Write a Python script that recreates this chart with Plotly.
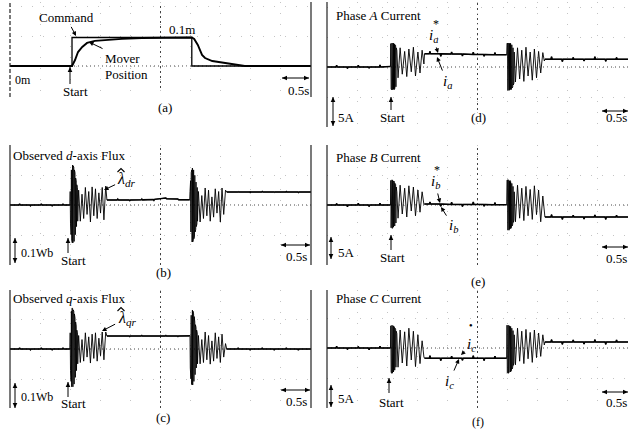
import math
import plotly.graph_objects as go

W, H = 629, 431
FONT = "Liberation Serif"

# ======================= DATA =======================
# (a) position command / mover position [m] vs time [s]
cmd_t = [0.0, 1.03, 1.03, 3.02, 3.02, 5.0]
cmd_v = [0.0, 0.0, 0.1, 0.1, 0.0, 0.0]
pos_t = [0.0, 1.03, 1.08, 1.13, 1.20, 1.28, 1.41, 1.58, 1.86, 2.19, 2.6, 3.02,
         3.06, 3.12, 3.19, 3.24, 3.36, 3.52, 3.69, 3.9, 5.0]
pos_v = [0.0, 0.0, 0.021, 0.049, 0.067, 0.081, 0.088, 0.091, 0.095, 0.098, 0.1, 0.1,
         0.095, 0.074, 0.039, 0.028, 0.0175, 0.012, 0.006, 0.0, 0.0]

# ---- sample times, left column (flux) ----
pre_t_L = [0.00, 0.15, 0.16, 0.17, 0.33, 0.34, 0.35, 0.51, 0.52, 0.53, 0.69, 0.70, 0.71, 0.87, 0.88, 0.89, 0.995]
blk1_t_L = [1.000, 1.005, 1.010, 1.015, 1.020, 1.025, 1.030, 1.035, 1.040, 1.045, 1.050, 1.055, 1.060,
            1.065, 1.070, 1.075, 1.080, 1.085, 1.090, 1.095, 1.100, 1.105, 1.110, 1.115, 1.120, 1.125]
osc1_t_L = [1.14, 1.168, 1.196, 1.224, 1.252, 1.28, 1.308, 1.336, 1.364, 1.392, 1.42, 1.448,
            1.476, 1.504, 1.532, 1.56, 1.59]
lvl1_t_L = [1.61, 1.78, 1.79, 1.80, 1.98, 1.99, 2.00, 2.18, 2.19, 2.20, 2.38, 2.39, 2.40,
            2.58, 2.59, 2.60, 2.78, 2.79, 2.80, 2.985]
blk2_t_L = [2.990, 2.995, 3.000, 3.005, 3.010, 3.015, 3.020, 3.025, 3.030, 3.035, 3.040, 3.045, 3.050,
            3.055, 3.060, 3.065, 3.070, 3.075, 3.080, 3.085, 3.090, 3.095, 3.100, 3.105, 3.110, 3.115]
osc2_t_L = [3.13, 3.158, 3.186, 3.214, 3.242, 3.27, 3.298, 3.326, 3.354, 3.382, 3.41, 3.438,
            3.466, 3.494, 3.522, 3.55, 3.58]
lvl2_t_L = [3.60, 3.78, 3.79, 3.80, 3.98, 3.99, 4.00, 4.18, 4.19, 4.20, 4.38, 4.39, 4.40,
            4.58, 4.59, 4.60, 4.78, 4.79, 4.80, 5.00]

# (b) observed d-axis flux [Wb]
ld_pre = [0, 0, 0.004, 0, 0, -0.003, 0, 0, 0.004, 0, 0, -0.003, 0, 0, 0.003, 0, 0]
ld_blk1 = [0.05, -0.07, 0.10, -0.11, 0.13, -0.13, 0.145, -0.14, 0.148, -0.14, 0.145, -0.14, 0.14,
           -0.135, 0.13, -0.125, 0.12, -0.11, 0.10, -0.095, 0.09, -0.08, 0.075, -0.07, 0.065, -0.06]
ld_osc1 = [0.055, -0.06, 0.04, -0.05, 0.065, -0.035, 0.05, -0.063, 0.067, -0.04, 0.06, -0.05,
           0.045, -0.03, 0.065, -0.055, 0.07]
ld_lvl1 = [0.0185, 0.0185, 0.022, 0.0185, 0.0185, 0.016, 0.0185, 0.019, 0.022, 0.019, 0.02, 0.017,
           0.021, 0.024, 0.026, 0.023, 0.02, 0.022, 0.019, 0.019]
ld_blk2 = [0.05, -0.07, 0.09, -0.10, 0.12, -0.125, 0.13, -0.137, 0.137, -0.137, 0.135, -0.13, 0.13,
           -0.125, 0.12, -0.115, 0.11, -0.10, 0.095, -0.09, 0.085, -0.08, 0.075, -0.07, 0.065, -0.06]
ld_osc2 = [0.05, -0.063, 0.035, -0.05, 0.063, -0.04, 0.055, -0.06, 0.03, -0.045, 0.06, -0.03,
           0.05, -0.063, 0.063, -0.035, 0.055]
ld_lvl2 = [0.048, 0.048, 0.05, 0.048, 0.048, 0.046, 0.048, 0.048, 0.05, 0.048, 0.048, 0.046,
           0.048, 0.048, 0.05, 0.048, 0.048, 0.046, 0.048, 0.048]

# (c) observed q-axis flux [Wb]
lq_pre = [0, 0, 0.004, 0, 0, -0.003, 0, 0, 0.004, 0, 0, -0.003, 0, 0, 0.004, 0, 0]
lq_blk1 = [0.06, -0.08, 0.11, -0.12, 0.14, -0.14, 0.152, -0.14, 0.15, -0.14, 0.145, -0.14, 0.14,
           -0.13, 0.13, -0.12, 0.115, -0.105, 0.10, -0.09, 0.085, -0.08, 0.07, -0.065, 0.06, -0.055]
lq_osc1 = [0.05, -0.05, 0.035, -0.045, 0.06, -0.03, 0.045, -0.052, 0.055, -0.035, 0.06, -0.045,
           0.04, -0.025, 0.063, -0.04, 0.063]
lq_lvl1 = [0.048, 0.048, 0.05, 0.048, 0.048, 0.046, 0.048, 0.048, 0.05, 0.048, 0.048, 0.046,
           0.048, 0.048, 0.05, 0.048, 0.048, 0.046, 0.048, 0.048]
lq_blk2 = [0.05, -0.07, 0.10, -0.11, 0.125, -0.13, 0.14, -0.133, 0.144, -0.133, 0.14, -0.13, 0.13,
           -0.12, 0.12, -0.11, 0.10, -0.095, 0.09, -0.085, 0.08, -0.07, 0.07, -0.065, 0.06, -0.055]
lq_osc2 = [0.05, -0.055, 0.035, -0.05, 0.063, -0.04, 0.05, -0.056, 0.03, -0.045, 0.06, -0.035,
           0.045, -0.05, 0.055, -0.03, 0.02]
lq_lvl2 = [0, 0, 0.004, 0, 0, -0.004, 0, 0, 0.004, 0, 0, -0.004, 0, 0, 0.004, 0, 0, -0.004, 0, 0]

# ---- sample times, right column (currents) ----
pre_t_R = [0.00, 0.15, 0.16, 0.17, 0.33, 0.34, 0.35, 0.51, 0.52, 0.53, 0.69, 0.70, 0.71, 0.87, 0.88, 0.89, 1.055]
blk1_t_R = [1.060, 1.065, 1.070, 1.075, 1.080, 1.085, 1.090, 1.095, 1.100, 1.105, 1.110,
            1.115, 1.120, 1.125, 1.130, 1.135, 1.140, 1.145, 1.150, 1.155, 1.160]
osc1_t_R = [1.18, 1.215, 1.25, 1.29, 1.325, 1.36, 1.40, 1.435, 1.47, 1.51, 1.545, 1.58, 1.61]
lvl1_t_R = [1.62, 1.70, 1.71, 1.72, 1.88, 1.89, 1.90, 2.06, 2.07, 2.08, 2.24, 2.25, 2.26,
            2.42, 2.43, 2.44, 2.60, 2.61, 2.62, 2.78, 2.79, 2.80, 2.985]
blk2_t_R = [2.990, 2.995, 3.000, 3.005, 3.010, 3.015, 3.020, 3.025, 3.030, 3.035, 3.040, 3.045, 3.050,
            3.055, 3.060, 3.065, 3.070, 3.075, 3.080, 3.085, 3.090, 3.095, 3.100, 3.105, 3.110]
osc2_t_R = [3.13, 3.165, 3.20, 3.235, 3.27, 3.305, 3.34, 3.375, 3.41, 3.445, 3.48, 3.515, 3.55, 3.585, 3.61]
lvl2_t_R = [3.62, 3.72, 3.73, 3.74, 3.90, 3.91, 3.92, 4.08, 4.09, 4.10, 4.26, 4.27, 4.28,
            4.44, 4.45, 4.46, 4.62, 4.63, 4.64, 4.80, 4.81, 4.82, 5.00]

# (d) phase A current [A]
ia_pre = [0, 0, 0.3, 0, 0, -0.25, 0, 0, 0.3, 0, 0, -0.2, 0, 0, 0.35, 0, 0.1]
ia_blk1 = [3.9, -3.7, 4.0, -3.8, 4.0, -3.8, 3.9, -3.8, 4.0, -3.7, 3.9, -3.8, 3.8, -3.6, 3.7,
           -3.5, 3.6, -3.3, 3.2, -3.0, 2.8]
ia_osc1 = [-1.8, 3.2, -1.2, 2.6, -1.6, 3.0, -0.8, 3.3, -1.5, 2.5, -1.0, 2.8, 0.5]
ia_lvl1 = [2.2, 2.2, 2.6, 2.2, 2.2, 1.8, 2.2, 2.15, 2.5, 2.15, 2.15, 1.85, 2.15, 2.1, 2.45, 2.1,
           2.1, 1.8, 2.1, 2.05, 2.4, 2.05, 2.05]
ia_blk2 = [3.9, -3.8, 4.0, -3.9, 4.0, -3.8, 4.0, -3.9, 3.9, -3.8, 4.0, -3.7, 3.9, -3.8, 3.8, -3.7,
           3.7, -3.5, 3.5, -3.3, 3.2, -3.0, 2.9, -2.7, 2.5]
ia_osc2 = [-2.5, 3.2, -2.0, 2.8, -2.4, 3.3, -1.5, 2.5, -2.2, 3.0, -1.8, 2.6, -1.0, 2.4, 1.0]
ia_lvl2 = [1.3, 1.3, 1.7, 1.3, 1.3, 0.9, 1.3, 1.3, 1.6, 1.3, 1.3, 1.0, 1.3, 1.3, 1.7, 1.3, 1.3,
           0.95, 1.3, 1.3, 1.6, 1.3, 1.3]

# (e) phase B current [A]
ib_pre = [0, 0, 0.25, 0, 0, -0.3, 0, 0, 0.3, 0, 0, -0.25, 0, 0, 0.3, 0, 0]
ib_blk1 = [4.1, -3.8, 4.2, -3.8, 4.2, -3.9, 4.1, -3.8, 4.0, -3.7, 4.0, -3.6, 3.8, -3.5, 3.6, -3.3,
           3.4, -3.0, 3.0, -2.6, 2.2]
ib_osc1 = [-2.2, 3.3, -1.5, 2.8, -2.0, 3.2, -1.0, 3.0, -1.8, 2.5, -1.2, 2.2, 0.1]
ib_lvl1 = [0.15, 0.15, 0.5, 0.15, 0.15, -0.2, 0.15, 0.1, 0.45, 0.1, 0.1, -0.25, 0.1, 0.1, 0.5, 0.1,
           0.1, -0.2, 0.1, 0.05, 0.4, 0.05, 0.05]
ib_blk2 = [4.1, -4.1, 4.2, -4.2, 4.2, -4.1, 4.1, -4.2, 4.0, -4.0, 4.1, -3.9, 3.9, -3.9, 3.8, -3.7,
           3.6, -3.5, 3.4, -3.2, 3.1, -2.9, 2.7, -2.5, 2.2]
ib_osc2 = [-2.8, 3.3, -2.2, 2.8, -2.6, 3.1, -1.8, 2.6, -2.4, 3.2, -1.6, 2.5, -2.8, 1.5, -2.0]
ib_lvl2 = [-2.0, -2.0, -1.6, -2.0, -2.0, -2.4, -2.0, -2.0, -1.7, -2.0, -2.0, -2.35, -2.0, -2.0,
           -1.65, -2.0, -2.0, -2.4, -2.0, -2.0, -1.7, -2.0, -2.0]

# (f) phase C current [A]
ic_pre = [0, 0, 0.3, 0, 0, -0.25, 0, 0, 0.25, 0, 0, -0.3, 0, 0, 0.3, 0, 0]
ic_blk1 = [3.7, -4.1, 3.8, -4.2, 3.8, -4.2, 3.7, -4.1, 3.7, -4.0, 3.6, -3.9, 3.5, -3.7, 3.3, -3.5,
           3.1, -3.2, 2.8, -2.8, 2.4]
ic_osc1 = [-3.2, 3.0, -2.5, 2.7, -3.0, 3.3, -2.0, 2.8, -3.1, 2.2, -2.6, 1.2, -1.5]
ic_lvl1 = [-1.7, -1.7, -1.3, -1.7, -1.7, -2.1, -1.7, -1.7, -1.35, -1.7, -1.7, -2.05, -1.7, -1.7,
           -1.3, -1.7, -1.7, -2.1, -1.7, -1.7, -1.35, -1.7, -1.7]
ic_blk2 = [3.8, -4.2, 3.8, -4.1, 3.8, -4.2, 3.7, -4.1, 3.7, -4.0, 3.7, -4.0, 3.6, -3.9, 3.5, -3.7,
           3.3, -3.5, 3.1, -3.2, 2.9, -2.9, 2.6, -2.5, 2.2]
ic_osc2 = [-2.8, 3.3, -2.2, 2.8, -2.6, 3.1, -1.8, 2.6, -2.4, 3.0, -1.6, 2.5, -1.4, 2.2, 0.5]
ic_lvl2 = [1.0, 1.0, 1.4, 1.0, 1.0, 0.6, 1.0, 1.0, 1.35, 1.0, 1.0, 0.65, 1.0, 1.0, 1.4, 1.0, 1.0,
           0.6, 1.0, 1.0, 1.35, 1.0, 1.0]


def join(times, values):
    t, v = [], []
    for a, b in zip(times, values):
        assert len(a) == len(b), (len(a), len(b))
        t += a
        v += b
    return t, v


def flats(times, values):
    """Steady-state segments (indices 0, 3, 6) joined with gaps."""
    t, v = [], []
    for k in (0, 3, 6):
        t += times[k] + [None]
        v += values[k] + [None]
    return t, v


TL = [pre_t_L, blk1_t_L, osc1_t_L, lvl1_t_L, blk2_t_L, osc2_t_L, lvl2_t_L]
TR = [pre_t_R, blk1_t_R, osc1_t_R, lvl1_t_R, blk2_t_R, osc2_t_R, lvl2_t_R]
LD = [ld_pre, ld_blk1, ld_osc1, ld_lvl1, ld_blk2, ld_osc2, ld_lvl2]
LQ = [lq_pre, lq_blk1, lq_osc1, lq_lvl1, lq_blk2, lq_osc2, lq_lvl2]
IA = [ia_pre, ia_blk1, ia_osc1, ia_lvl1, ia_blk2, ia_osc2, ia_lvl2]
IB = [ib_pre, ib_blk1, ib_osc1, ib_lvl1, ib_blk2, ib_osc2, ib_lvl2]
IC = [ic_pre, ic_blk1, ic_osc1, ic_lvl1, ic_blk2, ic_osc2, ic_lvl2]


def wave(times, values):
    full = join(times, values)
    return [(full[0], full[1], 0.9), flats(times, values) + (1.5,)]


# ======================= LAYOUT =======================
# panel boxes in pixels: x0, x1, top, bottom, baseline, pixels per unit
panels = [
    dict(x0=10, x1=311, top=2, bot=97, base=66, ppu=285.0,
         series=[(cmd_t, cmd_v, 1.3), (pos_t, pos_v, 1.9)], rborder=True, ctr_bot=88),
    dict(x0=10, x1=311, top=145, bot=265, base=205, ppu=270.0,
         series=wave(TL, LD), rborder=True, ctr_bot=265),
    dict(x0=10, x1=311, top=290, bot=408, base=349, ppu=270.0,
         series=wave(TL, LQ), rborder=True, ctr_bot=408),
    dict(x0=327, x1=628, top=2, bot=127, base=67, ppu=6.0,
         series=wave(TR, IA), rborder=False, ctr_bot=110),
    dict(x0=327, x1=628, top=145, bot=265, base=205, ppu=6.0,
         series=wave(TR, IB), rborder=False, ctr_bot=265),
    dict(x0=327, x1=628, top=290, bot=408, base=348, ppu=6.0,
         series=wave(TR, IC), rborder=False, ctr_bot=408),
]


def PX(x, y):
    return x / W, 1 - y / H


fig = go.Figure()
layout = {}
shapes = []
for i, p in enumerate(panels, start=1):
    xn = "x" if i == 1 else f"x{i}"
    yn = "y" if i == 1 else f"y{i}"
    xk = "xaxis" if i == 1 else f"xaxis{i}"
    yk = "yaxis" if i == 1 else f"yaxis{i}"
    ppu = p["ppu"]
    yr = [-(p["bot"] - p["base"]) / ppu, (p["base"] - p["top"]) / ppu]
    layout[xk] = dict(domain=[p["x0"] / W, p["x1"] / W], range=[0, 5], anchor=yn,
                      showticklabels=False, ticks="", zeroline=False, showline=False,
                      showgrid=True, tick0=0, dtick=0.5, gridcolor="#c4c4c4",
                      griddash="1px,10px", gridwidth=1, fixedrange=True)
    layout[yk] = dict(domain=[1 - p["bot"] / H, 1 - p["top"] / H], range=yr, anchor=xn,
                      showticklabels=False, ticks="", zeroline=False, showline=False,
                      showgrid=True, tick0=0, dtick=30 / ppu, gridcolor="#c4c4c4",
                      griddash="1px,10px", gridwidth=1, fixedrange=True)
    # baseline (dotted)
    shapes.append(dict(type="line", xref=f"{xn} domain", yref=yn, x0=0, x1=1, y0=0, y1=0,
                       line=dict(color="#444", width=1, dash="1px,3px"), layer="below"))
    # centre vertical line
    ctr_lo = (p["bot"] - p["ctr_bot"]) / (p["bot"] - p["top"])
    shapes.append(dict(type="line", xref=xn, yref=f"{yn} domain", x0=2.5, x1=2.5,
                       y0=ctr_lo, y1=1, line=dict(color="#444", width=1, dash="2px,3px"),
                       layer="below"))
    # left border
    shapes.append(dict(type="line", xref=f"{xn} domain", yref=f"{yn} domain", x0=0, x1=0,
                       y0=0, y1=1, line=dict(color="#222", width=1.2,
                                             dash="4px,2px" if i == 1 else "solid")))
    if p["rborder"]:
        shapes.append(dict(type="line", xref=f"{xn} domain", yref=f"{yn} domain", x0=1, x1=1,
                           y0=0, y1=1, line=dict(color="#222", width=1.2)))
    for (t, v, w) in p["series"]:
        fig.add_trace(go.Scatter(x=t, y=v, mode="lines", xaxis=xn, yaxis=yn,
                                 line=dict(color="black", width=w), hoverinfo="skip",
                                 connectgaps=False))

annotations = []


def txt(s, x, y, size=12, anchor="center"):
    px, py = PX(x, y)
    annotations.append(dict(text=s, x=px, y=py, xref="paper", yref="paper", showarrow=False,
                            xanchor=anchor, yanchor="middle",
                            font=dict(family=FONT, size=size, color="black")))


def label_arrow(s, tx, ty, hx, hy, size=13):
    """text centred at (tx, ty) with an arrow to (hx, hy)"""
    px, py = PX(hx, hy)
    annotations.append(dict(text=s, x=px, y=py, xref="paper", yref="paper", showarrow=True,
                            ax=tx - hx, ay=ty - hy, axref="pixel", ayref="pixel",
                            arrowhead=2, arrowsize=0.9, arrowwidth=1, arrowcolor="black",
                            standoff=0, startstandoff=1,
                            font=dict(family=FONT, size=size, color="black")))


def head(hx, hy, fx, fy, length=5.0, half=2.3):
    """filled arrow head at (hx, hy), pointing away from (fx, fy)"""
    dx, dy = hx - fx, hy - fy
    n = math.hypot(dx, dy)
    ux, uy = dx / n, dy / n
    bx, by = hx - length * ux, hy - length * uy
    p1 = PX(bx - half * uy, by + half * ux)
    p2 = PX(bx + half * uy, by - half * ux)
    h = PX(hx, hy)
    shapes.append(dict(type="path", xref="paper", yref="paper",
                       path=f"M {h[0]:.5f} {h[1]:.5f} L {p1[0]:.5f} {p1[1]:.5f} L {p2[0]:.5f} {p2[1]:.5f} Z",
                       fillcolor="black", line=dict(width=0)))


def arrow(hx, hy, tx, ty, both=False):
    a, b = PX(tx, ty), PX(hx, hy)
    shapes.append(dict(type="line", xref="paper", yref="paper", x0=a[0], y0=a[1], x1=b[0], y1=b[1],
                       line=dict(color="black", width=1)))
    head(hx, hy, tx, ty)
    if both:
        head(tx, ty, hx, hy)


def caret(cx, cy):
    """circumflex accent drawn as a small path (for the observed-flux hats)"""
    l, t, r = PX(cx - 3.5, cy + 3), PX(cx, cy - 0.5), PX(cx + 3.5, cy + 3)
    shapes.append(dict(type="path", xref="paper", yref="paper",
                       path=f"M {l[0]:.5f} {l[1]:.5f} L {t[0]:.5f} {t[1]:.5f} L {r[0]:.5f} {r[1]:.5f}",
                       line=dict(color="black", width=1.1)))


# (a)
label_arrow("Command", 66, 17, 76, 36)
label_arrow("Mover", 122, 58, 89, 42)
txt("Position", 103, 75, 13, "left")
txt("0.1m", 182, 30, 13)
txt("0m", 23, 80, 12)
txt("Start", 75, 92, 13)
arrow(70, 67, 70, 84)
txt("0.5s", 298, 90, 13)
arrow(309, 78, 282, 78, both=True)
txt("(a)", 165, 108, 13)

# (b)
txt("Observed <i>d</i>-axis Flux", 11, 155, 13, "left")
label_arrow("<i>λ</i><sub><i>dr</i></sub>", 127, 179, 104, 190, 16)
caret(121, 169)
arrow(15, 238, 15, 263, both=True)
txt("0.1Wb", 19, 253, 12, "left")
txt("Start", 73, 260, 13)
arrow(68, 238, 68, 253)
txt("0.5s", 296, 256, 13)
arrow(310, 245, 281, 245, both=True)
txt("(b)", 163, 272, 13)

# (c)
txt("Observed <i>q</i>-axis Flux", 11, 298, 13, "left")
label_arrow("<i>λ</i><sub><i>qr</i></sub>", 127, 318, 102, 331, 16)
caret(121, 308)
arrow(15, 383, 15, 408, both=True)
txt("0.1Wb", 19, 397, 12, "left")
txt("Start", 73, 403, 13)
arrow(68, 382, 68, 397)
txt("0.5s", 296, 401, 13)
arrow(310, 390, 281, 390, both=True)
txt("(c)", 163, 417, 13)

# (d)
txt("Phase <i>A</i> Current", 334, 15, 13, "left")
label_arrow("<i>i</i><sub><i>a</i></sub>", 433, 36, 438, 53, 15)
txt("*", 436, 24, 12)
label_arrow("<i>i</i><sub><i>a</i></sub>", 447, 82, 437, 57, 15)
arrow(333, 97, 333, 126, both=True)
txt("5A", 336, 117, 13, "left")
txt("Start", 392, 118, 13)
arrow(391, 97, 391, 110)
txt("0.5s", 616, 118, 13)
arrow(628, 111, 602, 111, both=True)
txt("(d)", 478, 118, 13)

# (e)
txt("Phase <i>B</i> Current", 334, 157, 13, "left")
label_arrow("<i>i</i><sub><i>b</i></sub>", 435, 182, 440, 203, 15)
txt("*", 437, 170, 12)
label_arrow("<i>i</i><sub><i>b</i></sub>", 453, 226, 441, 207, 15)
arrow(331, 237, 331, 259, both=True)
txt("5A", 336, 252, 13, "left")
txt("Start", 392, 257, 13)
arrow(391, 235, 391, 250)
txt("0.5s", 616, 258, 13)
arrow(628, 247, 602, 247, both=True)
txt("(e)", 478, 281, 13)

# (f)
txt("Phase <i>C</i> Current", 334, 298, 13, "left")
label_arrow("<i>i</i><sub><i>c</i></sub>", 471, 345, 461, 355, 15)
txt("●", 471, 325, 6)
label_arrow("<i>i</i><sub><i>c</i></sub>", 449, 382, 459, 359, 15)
arrow(331, 385, 331, 407, both=True)
txt("5A", 336, 398, 13, "left")
txt("Start", 391, 402, 13)
arrow(389, 378, 389, 393)
txt("0.5s", 616, 402, 13)
arrow(628, 392, 602, 392, both=True)
txt("(f)", 478, 422, 12)

fig.update_layout(**layout)
fig.update_layout(width=W, height=H, margin=dict(l=0, r=0, t=0, b=0),
                  paper_bgcolor="white", plot_bgcolor="white", showlegend=False,
                  shapes=shapes, annotations=annotations,
                  font=dict(family=FONT, color="black"))
fig.write_html("out.html", config={"displayModeBar": False},
               post_script="document.body.style.margin='0px';document.body.style.overflow='hidden';")
